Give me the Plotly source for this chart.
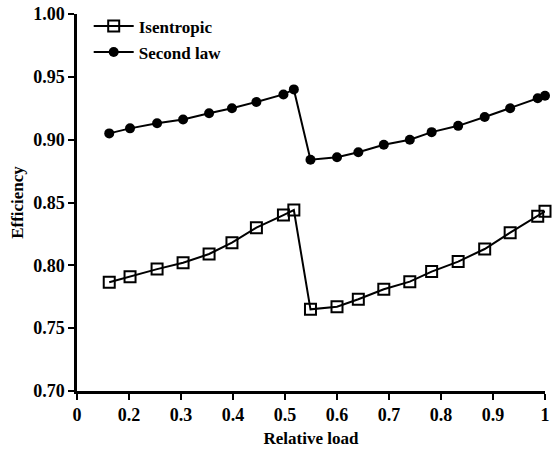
import plotly.graph_objects as go

relative_load = [0.162, 0.202, 0.254, 0.304, 0.354, 0.398, 0.445, 0.497, 0.517,
                 0.549, 0.600, 0.641, 0.690, 0.740, 0.782, 0.833, 0.884, 0.933, 0.986, 1.0]
isentropic = [0.7865, 0.791, 0.797, 0.802, 0.809, 0.818, 0.830, 0.840, 0.844,
              0.765, 0.767, 0.773, 0.781, 0.787, 0.795, 0.803, 0.813, 0.826, 0.839, 0.843]
second_law = [0.905, 0.909, 0.913, 0.916, 0.921, 0.925, 0.930, 0.936, 0.940,
              0.884, 0.886, 0.890, 0.896, 0.900, 0.906, 0.911, 0.918, 0.925, 0.933, 0.935]

x_tickvals = [0.1, 0.2, 0.3, 0.4, 0.5, 0.6, 0.7, 0.8, 0.9, 1.0]
x_ticktext = ["0", "0.2", "0.3", "0.4", "0.5", "0.6", "0.7", "0.8", "0.9", "1"]
y_tickvals = [0.70, 0.75, 0.80, 0.85, 0.90, 0.95, 1.00]
y_ticktext = ["0.70", "0.75", "0.80", "0.85", "0.90", "0.95", "1.00"]

FONT = "Times New Roman"

fig = go.Figure()
fig.add_trace(go.Scatter(
    x=relative_load, y=isentropic, name="<b>Isentropic</b>", mode="lines+markers",
    line=dict(color="black", width=2),
    marker=dict(symbol="square-open", size=11, color="black", line=dict(width=2)),
    cliponaxis=False, legendgroup="a"))
fig.add_trace(go.Scatter(
    x=relative_load, y=second_law, name="<b>Second law</b>", mode="lines+markers",
    line=dict(color="black", width=2),
    marker=dict(symbol="circle", size=10, color="black"),
    cliponaxis=False, legendgroup="b"))

fig.update_layout(
    width=552, height=453,
    margin=dict(l=77, r=7, t=14, b=62),
    paper_bgcolor="white", plot_bgcolor="white",
    font=dict(family=FONT, size=16, color="black"),
    legend=dict(x=0.025, y=1.015, xanchor="left", yanchor="top",
                font=dict(family=FONT, size=17), bgcolor="rgba(0,0,0,0)",
                tracegroupgap=1, itemwidth=40),
    xaxis=dict(range=[0.1, 1.0], tickvals=x_tickvals, ticktext=[f"<b>{t}</b>" for t in x_ticktext],
               showgrid=False, zeroline=False, showline=True, linecolor="black", linewidth=2.5,
               ticks="outside", ticklen=6, tickwidth=2, tickcolor="black", automargin=False,
               tickfont=dict(family=FONT, size=18),
               title=dict(text="<b>Relative load</b>", font=dict(family=FONT, size=17), standoff=8)),
    yaxis=dict(range=[0.70, 1.00], tickvals=y_tickvals, ticktext=[f"<b>{t}</b>" for t in y_ticktext],
               showgrid=False, zeroline=False, showline=True, linecolor="black", linewidth=2.5,
               ticks="outside", ticklen=6, tickwidth=2, tickcolor="black", automargin=False,
               tickfont=dict(family=FONT, size=18),
               title=dict(text="<b>Efficiency</b>", font=dict(family=FONT, size=17), standoff=6)),
)

fig.write_html("out.html")
